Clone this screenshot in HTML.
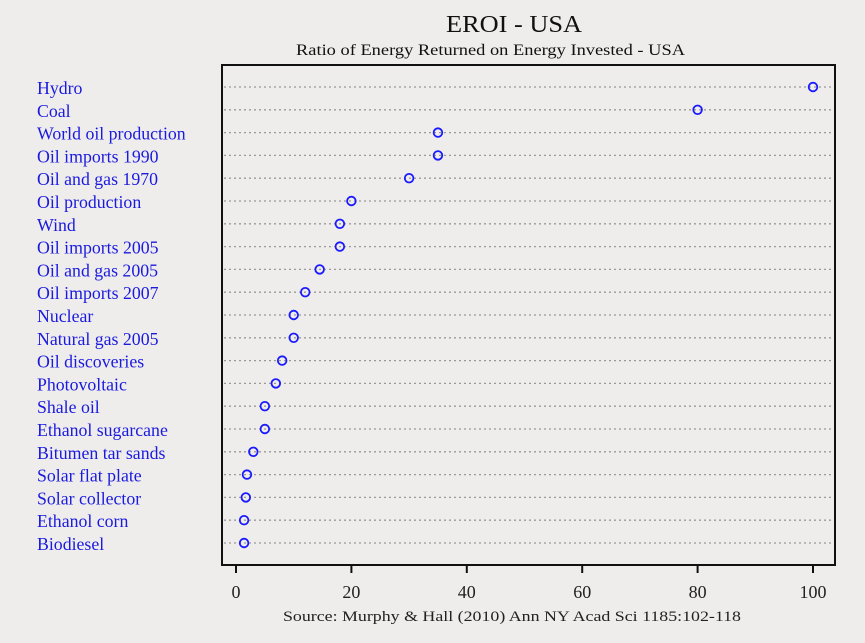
<!DOCTYPE html>
<html><head><meta charset="utf-8"><style>
html,body{margin:0;padding:0;background:#efedeb;}
svg{display:block;font-family:"Liberation Serif",serif;}
</style></head><body>
<svg id="chart" width="865" height="643">
<rect width="865" height="643" fill="#efedeb"/>
<text x="446" y="32" font-size="24" textLength="136" lengthAdjust="spacingAndGlyphs" fill="#111">EROI - USA</text>
<text x="296" y="55" font-size="16" textLength="389" lengthAdjust="spacingAndGlyphs" fill="#111">Ratio of Energy Returned on Energy Invested - USA</text>
<g id="rows"></g>
<rect x="222" y="65" width="613" height="500" fill="none" stroke="#111" stroke-width="2"/>
<g id="axis"></g>
<text x="283" y="621" font-size="15" textLength="458" lengthAdjust="spacingAndGlyphs" fill="#222">Source: Murphy &amp; Hall (2010) Ann NY Acad Sci 1185:102-118</text>
</svg>
<script>
const categories=["Hydro","Coal","World oil production","Oil imports 1990","Oil and gas 1970","Oil production","Wind","Oil imports 2005","Oil and gas 2005","Oil imports 2007","Nuclear","Natural gas 2005","Oil discoveries","Photovoltaic","Shale oil","Ethanol sugarcane","Bitumen tar sands","Solar flat plate","Solar collector","Ethanol corn","Biodiesel"];
const values=[100,80,35,35,30,20,18,18,14.5,12,10,10,8,6.9,5,5,3,1.9,1.7,1.4,1.4];
const tickValues=[0,20,40,60,80,100];
const NS="http://www.w3.org/2000/svg";
const xs=v=>236+v*5.77;
const ys=i=>87+i*22.8;
function mk(tag,attrs,parent){const e=document.createElementNS(NS,tag);for(const k in attrs)e.setAttribute(k,attrs[k]);parent.appendChild(e);return e;}
const rows=document.getElementById('rows');
categories.forEach((c,i)=>{
  const y=ys(i);
  const l=mk('line',{x1:224,x2:833,y1:y,y2:y,stroke:'#999','stroke-width':1.3,'stroke-dasharray':'2,3'},rows);
  
  
  const t=mk('text',{x:37,y:y+7,'font-size':17.8,fill:'#1a1adf'},rows);
  t.textContent=c;
  
  
  const p=mk('circle',{cx:xs(values[i]),cy:y,r:4.3,fill:'none',stroke:'#1a1aff','stroke-width':1.8},rows);
  
  
});
const ax=document.getElementById('axis');
tickValues.forEach(v=>{
  const x=xs(v);
  const tk=mk('line',{x1:x,x2:x,y1:565,y2:573,stroke:'#111','stroke-width':2},ax);
  
  
  const tl=mk('text',{x:x,y:598,'font-size':18,'text-anchor':'middle',fill:'#222'},ax);
  tl.textContent=v;
  
  
});
</script>
</body></html>
